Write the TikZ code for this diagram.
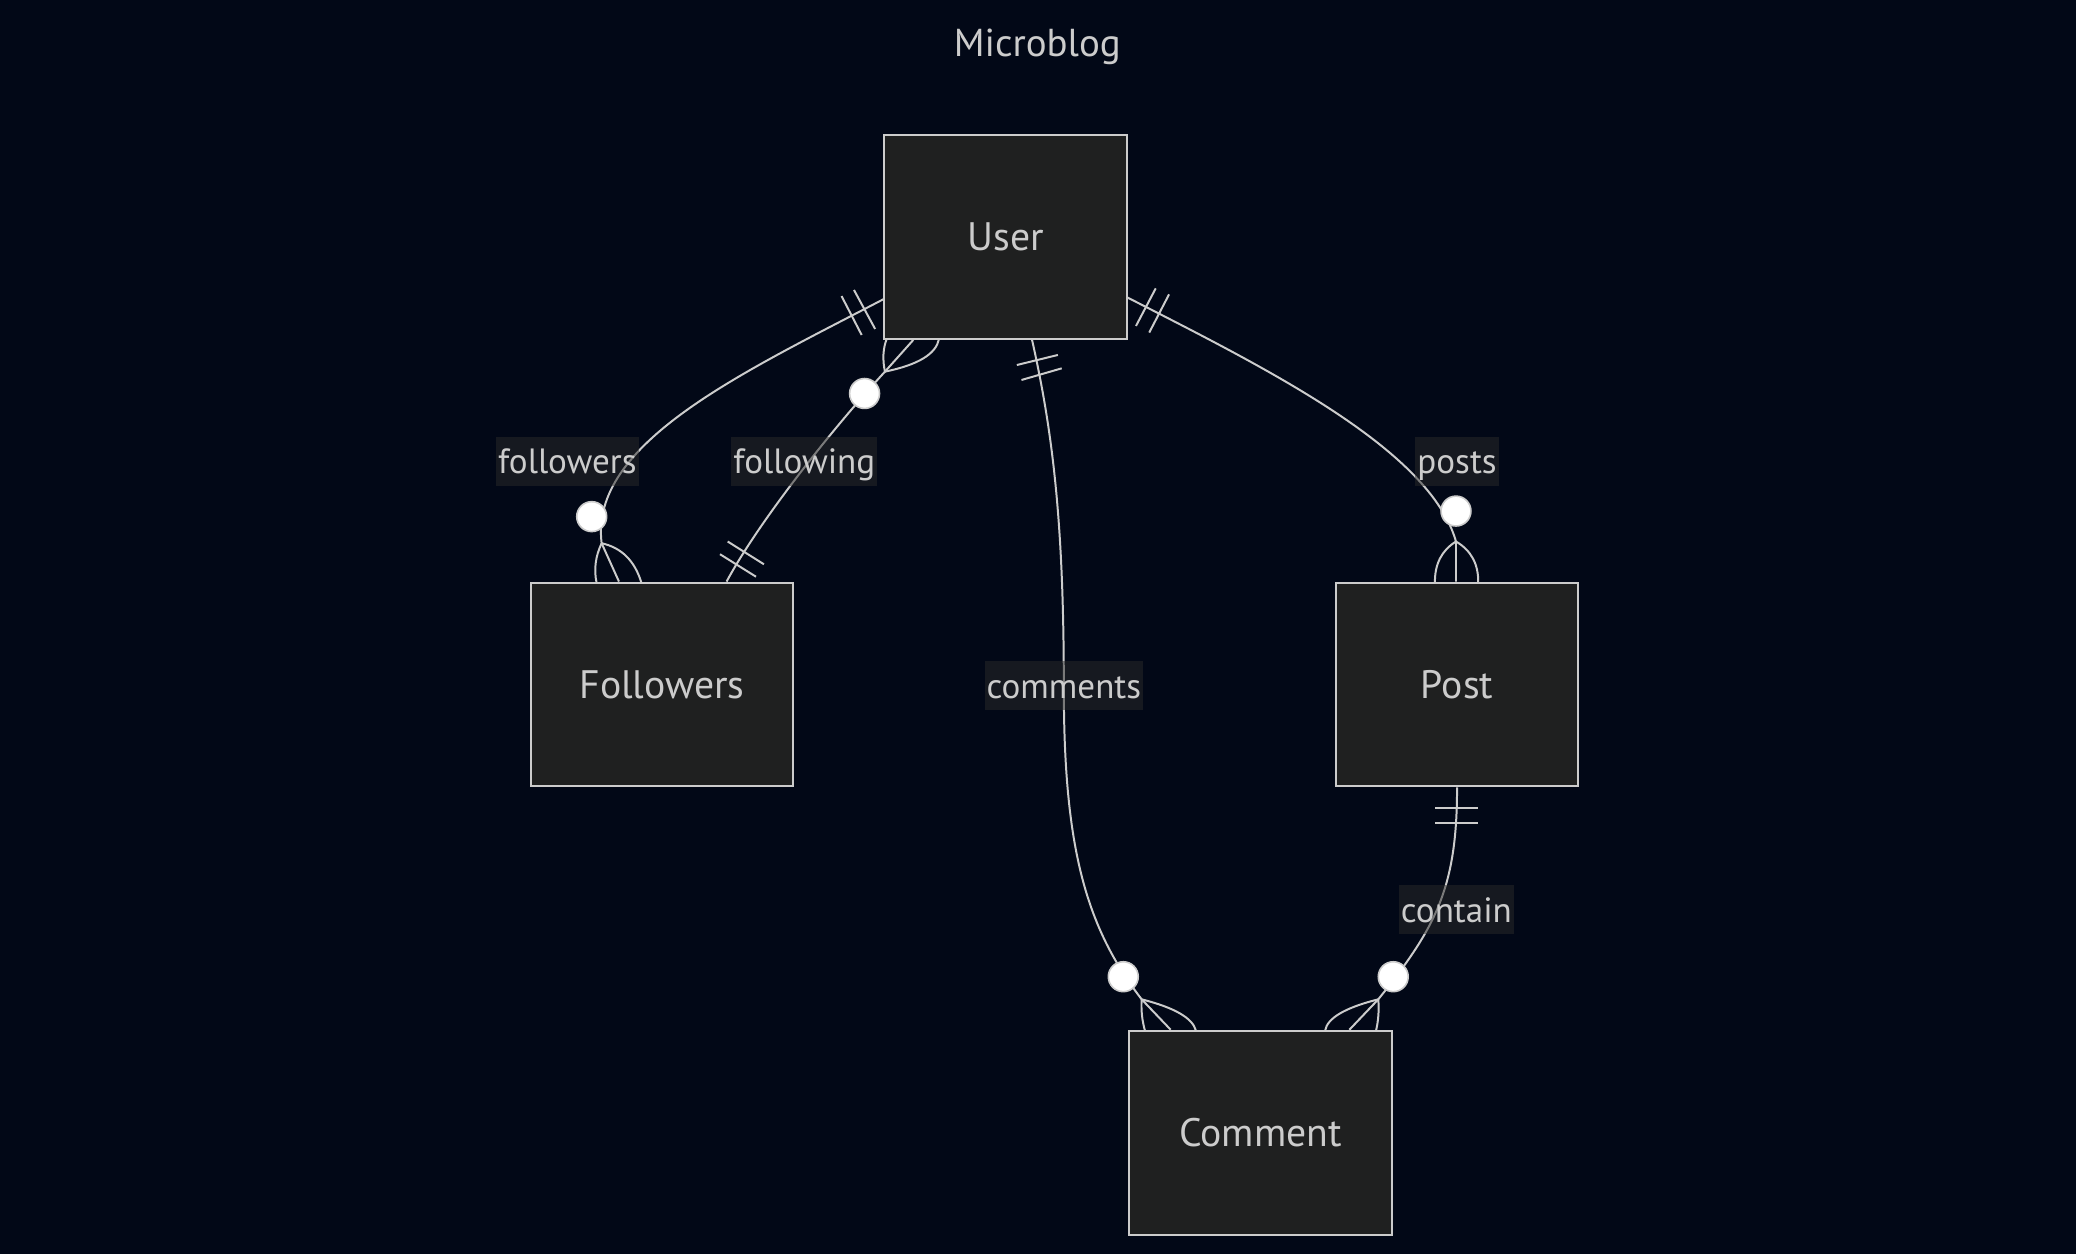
\documentclass[tikz,border=0pt]{standalone}
\usepackage{fontspec}
\setmainfont{PT Sans}
\usetikzlibrary{calc}
\definecolor{bgc}{HTML}{020817}
\definecolor{boxfill}{HTML}{1F2020}
\definecolor{linec}{HTML}{CCCCCC}
\definecolor{txt}{HTML}{CCCCCC}
\definecolor{lblbg}{HTML}{2A2A2A}
% quadratic side branch of a crow's foot: junction, control, end
\newcommand\crowside[3]{\draw[rel] (#1) .. controls ($(#1)!2/3!(#2)$) and ($(#3)!2/3!(#2)$) .. (#3);}
\begin{document}
\begin{tikzpicture}[x=1pt,y=-1pt,
  entity/.style={draw=linec, fill=boxfill, line width=1.5pt, minimum height=154pt, inner sep=0pt, text=txt, font=\fontsize{30}{36}\selectfont},
  rel/.style={draw=linec, line width=1.5pt},
  lbl/.style={fill=lblbg, fill opacity=0.5, text opacity=1, text=txt, font=\fontsize{26.5}{30}\selectfont, inner xsep=1.5pt, minimum height=37pt, text height=19pt, text depth=0pt},
  zc/.style={circle, draw=linec, fill=white, line width=1.2pt, minimum size=22.6pt, inner sep=0pt},
  tick/.style={draw=linec, line width=1.5pt}]
\fill[bgc] (0,0) rectangle (1568,947);
\useasboundingbox (0,0) rectangle (1568,947);

\node[font=\fontsize{29.4}{34}\selectfont, text=txt, anchor=base] (title) at (783.5,42.3) {Microblog};

\node[entity, minimum width=183pt] (User) at (759.5,179) {User};
\node[entity, minimum width=198pt] (Followers) at (500,517) {Followers};
\node[entity, minimum width=183pt] (Post) at (1100.5,517) {Post};
\node[entity, minimum width=198pt] (Comment) at (952,855.5) {Comment};

% followers: User ||--o{ Followers
\draw[rel] ($(User.west)+(0,47)$) .. controls (560,282) and (445,335) .. (454.4,410.3) coordinate (j1) -- ($(Followers.north)+(-32.5,0)$);
\crowside{j1}{447.25,425.5}{450.7,440.6}
\crowside{j1}{477.1,415.3}{484.6,440.6}
\draw[tick] (635.6,223.6) -- (650.8,253);
\draw[tick] (645,219) -- (661,248.5);

% following: User }o--|| Followers
\draw[rel] ($(Followers.north)+(48.8,0)$) .. controls (572,396) and (625,328) .. (668.4,280.7) coordinate (j2) -- ($(User.south)+(-69.7,0)$);
\crowside{j2}{665.5,267}{669.7,256}
\crowside{j2}{706,273}{709.2,256}
\draw[tick] (549.6,409) -- (577,426.2);
\draw[tick] (543.8,418.6) -- (571,435.6);

% comments: User ||--o{ Comment
\draw[rel] ($(User.south)+(20,0)$) .. controls (796,330) and (803.5,400) .. (803.5,520) .. controls (803.5,640) and (820,700) .. (862.3,754.8) coordinate (j3) -- ($(Comment.north)+(-67.8,0)$);
\crowside{j3}{861.5,767}{864.8,778.5}
\crowside{j3}{899.6,764.2}{903.3,778.5}
\draw[tick] (768,275.7) -- (799,268.1);
\draw[tick] (771.5,287) -- (801.9,278.2);

% contain: Post ||--o{ Comment
\draw[rel] (Post.south) .. controls (1100.5,670) and (1085,700) .. (1041,754.8) coordinate (j4) -- ($(Comment.north)+(67.2,0)$);
\crowside{j4}{1042,767}{1039.3,778.5}
\crowside{j4}{1003.3,764.2}{1000.8,778.5}
\draw[tick] (1084,610.4) -- (1116,610.4);
\draw[tick] (1084,621.3) -- (1116,621.3);

% posts: User ||--o{ Post
\draw[rel] ($(User.east)+(0,45.8)$) .. controls (960,280) and (1080,340) .. (1099.7,409) coordinate (j5) -- ($(Post.north)+(-0.8,0)$);
\crowside{j5}{1083.5,419}{1083.8,440}
\crowside{j5}{1116.8,419}{1116.5,440}
\draw[tick] (858,246.2) -- (872.9,217.8);
\draw[tick] (868,251.2) -- (883,222.3);

% labels
\node[lbl] (lfollowers) at (428.5,348.5) {followers};
\node[lbl] (lfollowing) at (607.5,348.5) {following};
\node[lbl] (lposts) at (1100.5,348.5) {posts};
\node[lbl] (lcomments) at (803.5,518) {comments};
\node[lbl] (lcontain) at (1100,687) {contain};

% zero markers
\node[zc] (c1) at (446.9,390.2) {};
\node[zc] (c2) at (653,297.2) {};
\node[zc] (c3) at (848.4,737.7) {};
\node[zc] (c4) at (1052.3,737.7) {};
\node[zc] (c5) at (1099.7,386) {};
\end{tikzpicture}
\end{document}
